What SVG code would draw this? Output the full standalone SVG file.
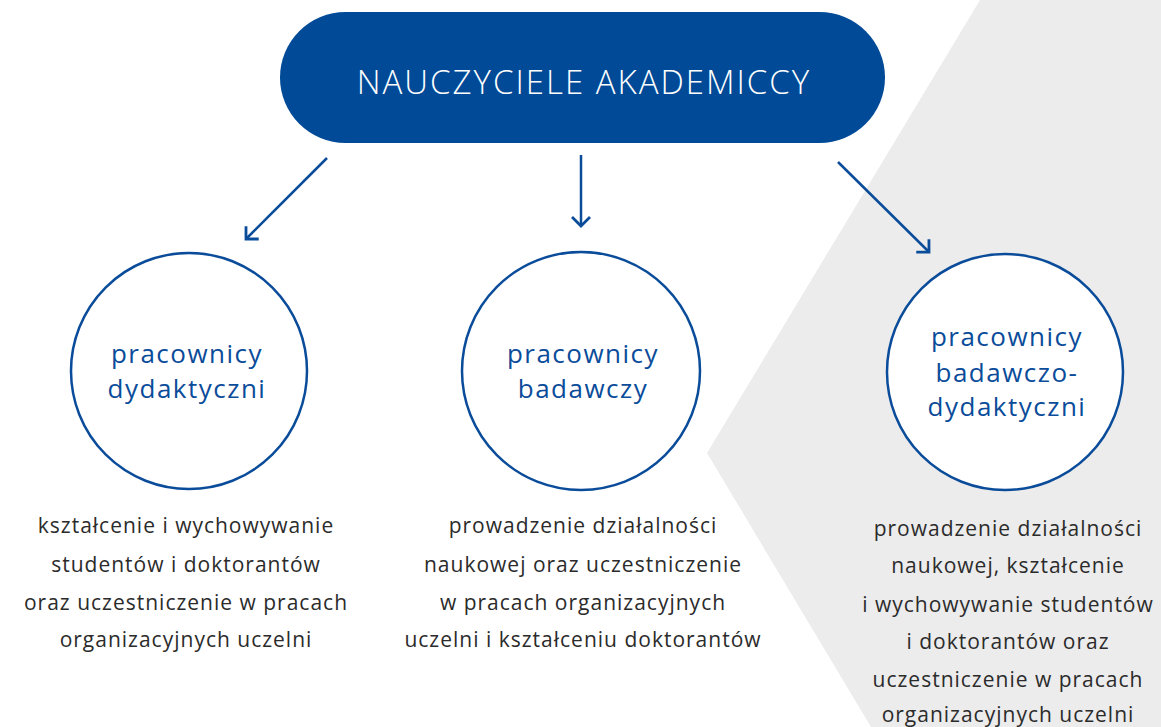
<svg xmlns="http://www.w3.org/2000/svg" width="1161" height="727" viewBox="0 0 1161 727">
<style>
.title{font-family:"Open Sans","Liberation Sans",sans-serif;font-weight:300;font-size:33px;letter-spacing:2px;fill:#ffffff;text-anchor:middle}
.lbl{font-family:"Open Sans","Liberation Sans",sans-serif;font-weight:400;font-size:26px;letter-spacing:1.5px;fill:#0a4c9a;text-anchor:middle}
.body{font-family:"Open Sans","Liberation Sans",sans-serif;font-weight:400;font-size:21px;letter-spacing:1px;fill:#2b2b2b;text-anchor:middle}
.circ{fill:#ffffff;stroke:#0a4c9a;stroke-width:2.5}
.conn{stroke:#0a4c9a;stroke-width:2.5;fill:none}
</style>
<defs>
<marker id="ah" viewBox="0 0 20 20" refX="16" refY="10" markerWidth="20" markerHeight="20" markerUnits="userSpaceOnUse" orient="auto">
<path d="M7,1 L16,10 L7,19" fill="none" stroke="#0a4c9a" stroke-width="2.8"/>
</marker>
</defs>
<rect width="1161" height="727" fill="#ffffff"/>
<polygon points="980,0 1161,0 1161,727 871,727 707,453" fill="#ececec"/>
<g id="top">
<rect x="280" y="12" width="605" height="131" rx="65.5" fill="#004a97"/>
<text class="title" x="584" y="94">NAUCZYCIELE AKADEMICCY</text>
</g>
<g id="connectors">
<line class="conn" x1="327" y1="158" x2="246" y2="239" marker-end="url(#ah)"/>
<line class="conn" x1="581" y1="155" x2="581" y2="226" marker-end="url(#ah)"/>
<line class="conn" x1="838" y1="162" x2="929" y2="252" marker-end="url(#ah)"/>
</g>
<g id="n1">
<circle class="circ" cx="189" cy="371" r="118"/>
<text class="lbl" x="187" y="363">pracownicy</text>
<text class="lbl" x="187" y="398">dydaktyczni</text>
</g>
<g id="n2">
<circle class="circ" cx="581" cy="371" r="119"/>
<text class="lbl" x="583" y="363">pracownicy</text>
<text class="lbl" x="583" y="398">badawczy</text>
</g>
<g id="n3">
<circle class="circ" cx="1005" cy="372" r="118"/>
<text class="lbl" x="1007" y="346">pracownicy</text>
<text class="lbl" x="1007" y="382">badawczo-</text>
<text class="lbl" x="1007" y="416">dydaktyczni</text>
</g>
<g id="d1">
<text class="body" x="186" y="533">kształcenie i wychowywanie</text>
<text class="body" x="186" y="572">studentów i doktorantów</text>
<text class="body" x="186" y="610">oraz uczestniczenie w pracach</text>
<text class="body" x="186" y="647">organizacyjnych uczelni</text>
</g>
<g id="d2">
<text class="body" x="583" y="533">prowadzenie działalności</text>
<text class="body" x="583" y="572">naukowej oraz uczestniczenie</text>
<text class="body" x="583" y="610">w pracach organizacyjnych</text>
<text class="body" x="583" y="647">uczelni i kształceniu doktorantów</text>
</g>
<g id="d3">
<text class="body" x="1008" y="536">prowadzenie działalności</text>
<text class="body" x="1008" y="573">naukowej, kształcenie</text>
<text class="body" x="1008" y="612">i wychowywanie studentów</text>
<text class="body" x="1008" y="649">i doktorantów oraz</text>
<text class="body" x="1008" y="687">uczestniczenie w pracach</text>
<text class="body" x="1008" y="722">organizacyjnych uczelni</text>
</g>
</svg>
